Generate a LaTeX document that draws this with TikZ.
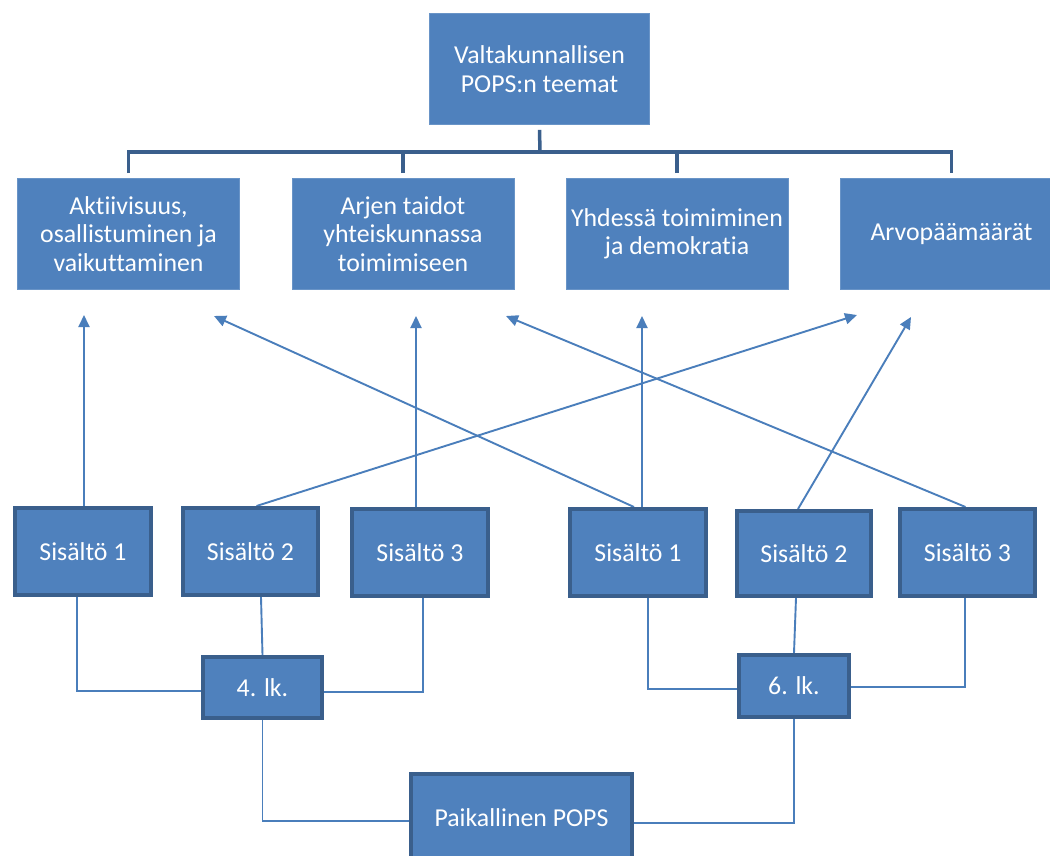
\documentclass[tikz,border=0pt]{standalone}
\usepackage{fontspec}
\setmainfont{Carlito}[RawFeature={-liga;-calt;-clig}]
\usetikzlibrary{arrows.meta,calc}
\definecolor{boxblue}{HTML}{4F81BD}
\definecolor{boxdark}{HTML}{3A5F8C}
\definecolor{linkblue}{HTML}{4A7EBB}
\pgfdeclarelayer{background}
\pgfdeclarelayer{canvas}
\pgfsetlayers{canvas,background,main}
\begin{document}
\begin{tikzpicture}[x=1pt,y=-1pt,
  lbl/.style={text=white,font=\fontsize{25.8}{28.5}\selectfont,align=center,inner sep=0pt},
  theme/.style={lbl,fill=boxblue,draw=boxblue!85!white,line width=0.8pt,minimum width=222pt,minimum height=111pt},
  framed/.style={lbl,fill=boxblue,draw=boxdark,line width=4pt},
  bus/.style={draw=boxdark,line width=3.5pt},
  link/.style={draw=linkblue,line width=1.9pt},
  arr/.style={link,-{Triangle[length=12pt,width=11pt]}}]
\clip (0,0) rectangle (1050,856);
\begin{pgfonlayer}{canvas}
\fill[white] (0,0) rectangle (1050,856);
\end{pgfonlayer}
% top and themes
\node[theme,minimum width=220pt] (top) at (539.5,69) {Valtakunnallisen\\POPS:n teemat};
\node[theme] (t1) at (128.5,234) {Akt\kern0pt iivisuus,\\osallistuminen ja\\vaikuttaminen};
\node[theme] (t2) at (403,234) {Arjen taidot\\yhteiskunnassa\\toimimiseen};
\node[theme] (t3) at (677,234) {Yhdessä toimiminen\\ja demokrat\kern0pt ia};
\node[theme] (t4) at (951.5,234) {Arvopäämäärät};
% contents
\node[framed,minimum width=136pt,minimum height=87pt] (s1L) at (83,551.5) {Sisältö 1};
\node[framed,minimum width=135pt,minimum height=87pt] (s2L) at (250.5,551.5) {Sisältö 2};
\node[framed,minimum width=136pt,minimum height=87pt] (s3L) at (420,552.5) {Sisältö 3};
\node[framed,minimum width=136pt,minimum height=87pt] (s1R) at (638,552.5) {Sisältö 1};
\node[framed,minimum width=134pt,minimum height=85pt] (s2R) at (804,553.5) {Sisältö 2};
\node[framed,minimum width=135pt,minimum height=87pt] (s3R) at (967.5,552.5) {Sisältö 3};
\node[framed,minimum width=119pt,minimum height=61pt] (lk4) at (262.5,687.5) {4. lk.};
\node[framed,minimum width=110pt,minimum height=62pt] (lk6) at (794,686) {6. lk.};
\node[framed,minimum width=221pt,minimum height=88pt] (pops) at (521.5,818) {Paikallinen POPS};
% arrow ends
\coordinate (a1) at (84,315);
\coordinate (a2) at (214,316);
\coordinate (a3) at (416,316);
\coordinate (a4) at (506,316);
\coordinate (a5) at (642,316);
\coordinate (a6) at (857,315);
\coordinate (a7) at (911,317);
\coordinate (bus) at (540,152);
\begin{pgfonlayer}{background}
% top bus
\draw[bus] ([yshift=-5pt]top.south) -- (bus);
\draw[bus] ([yshift=5pt]t1.north) -- (t1.north |- bus) -- (t4.north |- bus) -- ([yshift=5pt]t4.north);
\draw[bus] ([yshift=5pt]t2.north) -- (t2.north |- bus);
\draw[bus] ([yshift=5pt]t3.north) -- (t3.north |- bus);
% arrows
\draw[arr] ([xshift=1pt]s1L.north) -- (a1);
\draw[arr] ([xshift=-4pt]s1R.north) -- (a2);
\draw[arr] ([xshift=-4pt]s3L.north) -- (a3);
\draw[arr] ([xshift=-2pt]s3R.north) -- (a4);
\draw[arr] ([xshift=4pt]s1R.north) -- (a5);
\draw[arr] ([xshift=6pt]s2L.north) -- (a6);
\draw[arr] ([xshift=-6pt]s2R.north) -- (a7);
% lower connectors
\draw[link] ([xshift=-6pt]s1L.south) |- ([yshift=-3.5pt]lk4.west);
\draw[link] ([xshift=10.5pt]s2L.south) -- (lk4.north);
\draw[link] ([xshift=3pt]s3L.south) |- ([yshift=-4.5pt]lk4.east);
\draw[link] ([xshift=10pt]s1R.south) |- ([yshift=-3pt]lk6.west);
\draw[link] ([xshift=-8pt]s2R.south) -- (lk6.north);
\draw[link] ([xshift=-2.5pt]s3R.south) |- ([yshift=-1pt]lk6.east);
\draw[link] (lk4.south) |- ([yshift=-3pt]pops.west);
\draw[link] (lk6.south) |- ([yshift=-5pt]pops.east);
\end{pgfonlayer}
\end{tikzpicture}
\end{document}
